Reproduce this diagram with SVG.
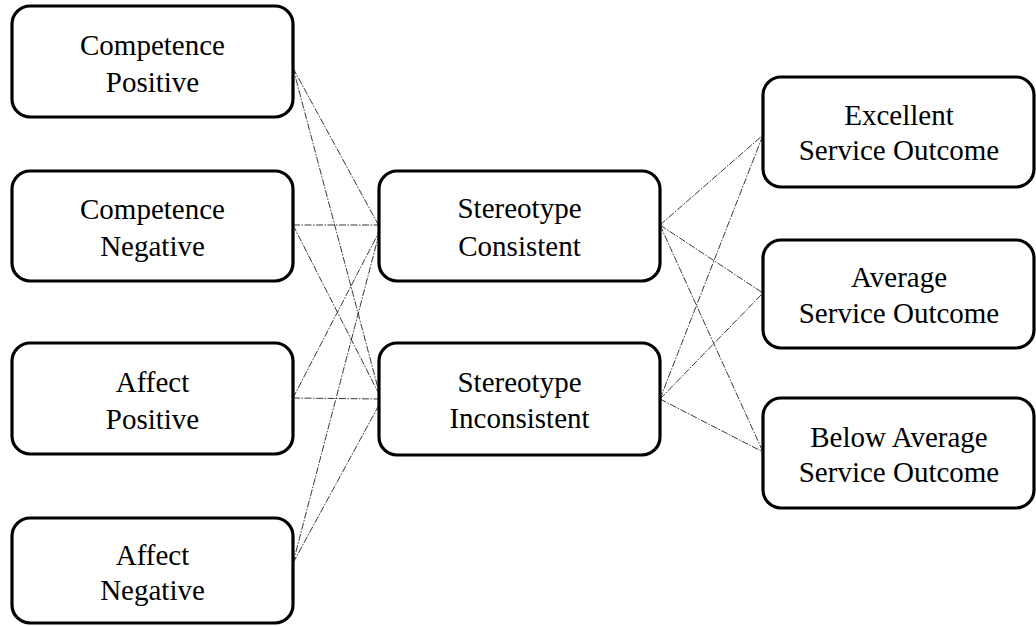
<svg xmlns="http://www.w3.org/2000/svg" width="1036" height="626" viewBox="0 0 1036 626">
  <style>
    .box { fill: #ffffff; stroke: #000000; stroke-width: 3.2; }
    .lbl { font-family: "Liberation Serif", "Times New Roman", serif; font-size: 29px; fill: #000000; text-anchor: middle; }
    .link { stroke: #222222; stroke-width: 0.9; stroke-dasharray: 7 1.5 1.5 1.5; fill: none; }
  </style>
  <rect x="0" y="0" width="1036" height="626" fill="#ffffff"/>

  <!-- connectors -->
  <g id="connectors">
    <!-- predictors to stereotype nodes -->
    <line class="link" x1="293" y1="68" x2="379" y2="226"/>
    <line class="link" x1="293" y1="68" x2="379" y2="392"/>
    <line class="link" x1="293" y1="225" x2="379" y2="225"/>
    <line class="link" x1="293" y1="225" x2="379" y2="394"/>
    <line class="link" x1="293" y1="398" x2="379" y2="232"/>
    <line class="link" x1="293" y1="398" x2="379" y2="399"/>
    <line class="link" x1="293" y1="563" x2="379" y2="234"/>
    <line class="link" x1="293" y1="563" x2="379" y2="405"/>
    <!-- stereotype nodes to outcomes -->
    <line class="link" x1="660" y1="225" x2="763" y2="135"/>
    <line class="link" x1="660" y1="225" x2="763" y2="293"/>
    <line class="link" x1="660" y1="225" x2="763" y2="452"/>
    <line class="link" x1="660" y1="399" x2="763" y2="135"/>
    <line class="link" x1="660" y1="399" x2="763" y2="293"/>
    <line class="link" x1="660" y1="399" x2="763" y2="452"/>
  </g>

  <!-- left column -->
  <g id="competence-positive">
    <rect class="box" x="12" y="6" width="281" height="111" rx="18"/>
    <text class="lbl" x="152.5" y="55">Competence</text>
    <text class="lbl" x="152.5" y="92">Positive</text>
  </g>
  <g id="competence-negative">
    <rect class="box" x="12" y="171" width="281" height="110" rx="18"/>
    <text class="lbl" x="152.5" y="219">Competence</text>
    <text class="lbl" x="152.5" y="256">Negative</text>
  </g>
  <g id="affect-positive">
    <rect class="box" x="12" y="343" width="281" height="111" rx="18"/>
    <text class="lbl" x="152.5" y="392">Affect</text>
    <text class="lbl" x="152.5" y="429">Positive</text>
  </g>
  <g id="affect-negative">
    <rect class="box" x="12" y="518" width="281" height="105" rx="18"/>
    <text class="lbl" x="152.5" y="565">Affect</text>
    <text class="lbl" x="152.5" y="600">Negative</text>
  </g>

  <!-- middle column -->
  <g id="stereotype-consistent">
    <rect class="box" x="379" y="171" width="281" height="110" rx="18"/>
    <text class="lbl" x="519.5" y="218">Stereotype</text>
    <text class="lbl" x="519.5" y="256">Consistent</text>
  </g>
  <g id="stereotype-inconsistent">
    <rect class="box" x="379" y="343" width="281" height="112" rx="18"/>
    <text class="lbl" x="519.5" y="392">Stereotype</text>
    <text class="lbl" x="519.5" y="428">Inconsistent</text>
  </g>

  <!-- right column -->
  <g id="excellent-outcome">
    <rect class="box" x="763" y="77" width="271" height="110" rx="18"/>
    <text class="lbl" x="899" y="125">Excellent</text>
    <text class="lbl" x="899" y="160">Service Outcome</text>
  </g>
  <g id="average-outcome">
    <rect class="box" x="763" y="240" width="271" height="108" rx="18"/>
    <text class="lbl" x="899" y="287">Average</text>
    <text class="lbl" x="899" y="323">Service Outcome</text>
  </g>
  <g id="below-average-outcome">
    <rect class="box" x="763" y="398" width="271" height="110" rx="18"/>
    <text class="lbl" x="899" y="447">Below Average</text>
    <text class="lbl" x="899" y="482">Service Outcome</text>
  </g>
</svg>
